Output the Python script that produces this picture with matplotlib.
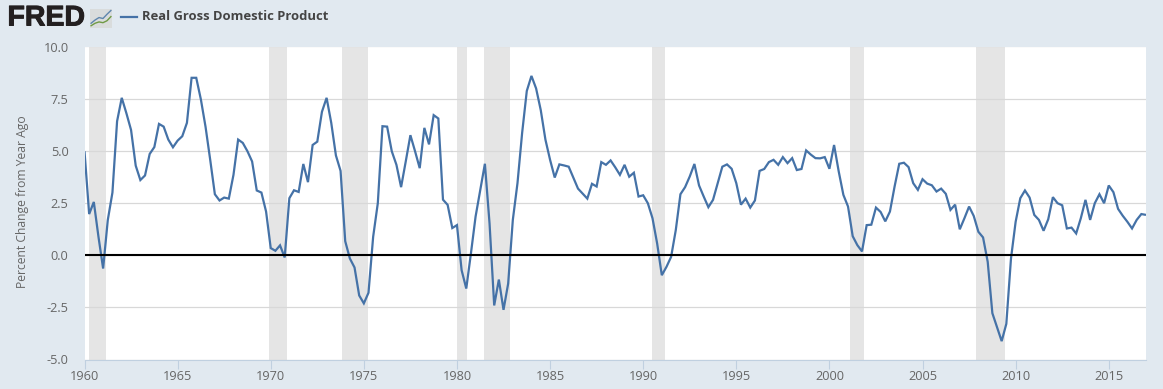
import numpy as np
import matplotlib
matplotlib.use('Agg')
import matplotlib.pyplot as plt
import matplotlib.patheffects as pe
from matplotlib.patches import Rectangle
from matplotlib.lines import Line2D

# quarterly, percent change from year ago, 1960Q1 - 2017Q1
gdp_1960s = [4.98, 1.97, 2.55, 0.88, -0.64, 1.68, 3.0, 6.42, 7.54, 6.8, 6.0, 4.29, 3.6, 3.82, 4.85, 5.18,
             6.29, 6.16, 5.54, 5.17, 5.49, 5.7, 6.34, 8.5, 8.5, 7.46, 6.15, 4.57, 2.92, 2.62, 2.76, 2.71,
             3.85, 5.54, 5.38, 4.98, 4.49, 3.1, 3.0, 2.09]
gdp_1970s = [0.34, 0.21, 0.47, -0.11, 2.73, 3.11, 3.03, 4.37, 3.5, 5.28, 5.44, 6.87, 7.54, 6.34, 4.78, 4.04,
             0.67, -0.16, -0.59, -1.93, -2.31, -1.8, 0.88, 2.49, 6.18, 6.16, 4.98, 4.33, 3.26, 4.49, 5.75, 4.98,
             4.17, 6.1, 5.31, 6.71, 6.55, 2.66, 2.41, 1.3]
gdp_1980s = [1.44, -0.72, -1.6, 0.08, 1.85, 3.13, 4.38, 1.52, -2.41, -1.17, -2.62, -1.36, 1.69, 3.45, 5.86, 7.87,
             8.59, 7.99, 6.95, 5.54, 4.57, 3.72, 4.35, 4.3, 4.24, 3.72, 3.19, 2.95, 2.71, 3.42, 3.29, 4.46,
             4.33, 4.54, 4.21, 3.85, 4.33, 3.76, 3.95, 2.81]
gdp_1990s = [2.87, 2.49, 1.77, 0.56, -0.96, -0.56, -0.08, 1.2, 2.92, 3.26, 3.77, 4.37, 3.34, 2.81, 2.3, 2.65,
             3.45, 4.24, 4.35, 4.14, 3.45, 2.42, 2.71, 2.28, 2.62, 4.04, 4.13, 4.46, 4.57, 4.33, 4.7, 4.41,
             4.65, 4.08, 4.13, 5.02, 4.82, 4.65, 4.64, 4.7]
gdp_2000s = [4.14, 5.28, 4.01, 2.89, 2.33, 0.91, 0.48, 0.18, 1.44, 1.46, 2.28, 2.07, 1.62, 2.09, 3.29, 4.38,
             4.43, 4.22, 3.45, 3.13, 3.64, 3.43, 3.35, 3.05, 3.19, 2.94, 2.17, 2.42, 1.24, 1.77, 2.33, 1.88,
             1.12, 0.85, -0.32, -2.78, -3.45, -4.12, -3.29, -0.16]
gdp_2010s = [1.6, 2.73, 3.1, 2.76, 1.93, 1.69, 1.17, 1.72, 2.78, 2.49, 2.39, 1.28, 1.32, 1.04, 1.77, 2.65,
             1.69, 2.49, 2.92, 2.49, 3.34, 3.02, 2.22, 1.89, 1.6, 1.28, 1.69, 1.97, 1.93]
gdp = gdp_1960s + gdp_1970s + gdp_1980s + gdp_1990s + gdp_2000s + gdp_2010s
years = 1960 + np.arange(len(gdp)) / 4.0

rec_start = [1960.25, 1969.92, 1973.83, 1980.0, 1981.46, 1990.48, 2001.11, 2007.88]
rec_end = [1961.13, 1970.87, 1975.22, 1980.54, 1982.86, 1991.16, 2001.84, 2009.42]

y_ticks = [-5.0, -2.5, 0.0, 2.5, 5.0, 7.5, 10.0]
x_ticks = list(range(1960, 2016, 5))

# little chart icon next to the logo
icon_blue = [0.25, 0.42, 0.55, 0.5, 0.72, 0.92]
icon_green = [0.12, 0.25, 0.32, 0.28, 0.38, 0.6]

W, H = 1163, 389
BG = '#e1e9f0'
TXT = '#666666'
plt.rcParams['font.family'] = ['Open Sans', 'DejaVu Sans']

fig = plt.figure(figsize=(W / 100, H / 100), dpi=100, facecolor=BG)
ax = fig.add_axes([84.5 / W, 1 - 359.5 / H, (1146 - 84.5) / W, (359.5 - 46.5) / H])

for s, e in zip(rec_start, rec_end):
    ax.axvspan(s, e, color='#e5e5e5', lw=0, zorder=1)
ax.plot(years, gdp, color='#4572a7', lw=1.6, zorder=3, solid_joinstyle='miter', solid_capstyle='butt')
ax.axhline(0, color='black', lw=1.5, zorder=4)

ax.set_xlim(1960, 2017)
ax.set_ylim(-5, 10)
ax.set_xticks(x_ticks)
ax.set_yticks(y_ticks)
ax.set_yticklabels(['%.1f' % v for v in y_ticks])
ax.grid(axis='y', color='#d8d8d8', lw=0.9, zorder=2)
ax.set_axisbelow(False)
for side in ['left', 'right', 'top']:
    ax.spines[side].set_visible(False)
ax.spines['bottom'].set_color('#c0d0e0')
ax.spines['bottom'].set_linewidth(0.8)
ax.tick_params(axis='y', length=0, pad=11.5, labelsize=9.2, labelcolor=TXT)
ax.tick_params(axis='x', length=6.5, width=0.8, color='#c0d0e0', pad=1, labelsize=9.2, labelcolor=TXT)
fig.text(23 / W, 1 - 201.5 / H, 'Percent Change from Year Ago', rotation=90, ha='center', va='center',
         fontsize=8.7, color=TXT)

# header: logo, legend key and series name
fig.text(7.5 / W, 1 - 18.5 / H, 'FRED', fontsize=20.5, fontweight='bold', color='#231f20', ha='left', va='center',
         family=['Liberation Sans', 'DejaVu Sans'],
         path_effects=[pe.withStroke(linewidth=0.7, foreground='#231f20')])
fig.add_artist(Rectangle((90 / W, 1 - 28 / H), 22 / W, 19 / H, transform=fig.transFigure, color='#d9dcdc', lw=0))
icon_x = 90 + np.linspace(0.05, 0.95, len(icon_blue)) * 22
fig.add_artist(Line2D(icon_x / W, 1 - (28 - np.array(icon_blue) * 19) / H, color='#5f86ad', lw=1.0))
fig.add_artist(Line2D(icon_x / W, 1 - (28 - np.array(icon_green) * 19) / H, color='#6f9a45', lw=1.0))
fig.add_artist(Line2D([121 / W, 137 / W], [1 - 17 / H, 1 - 17 / H], color='#4572a7', lw=1.6))
fig.text(142.5 / W, 1 - 16 / H, 'Real Gross Domestic Product', fontsize=9.4, fontweight='bold',
         color='#444444', ha='left', va='center')

fig.savefig('out.png', dpi=100, facecolor=BG)
